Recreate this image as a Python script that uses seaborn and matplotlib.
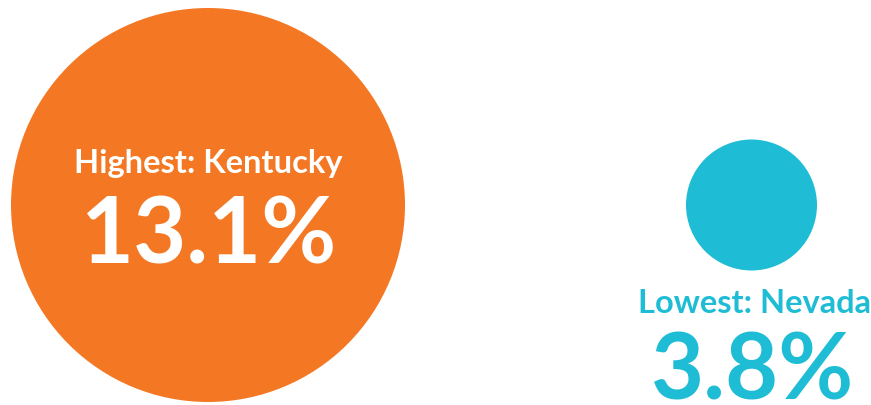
import matplotlib
matplotlib.use("Agg")
import matplotlib.pyplot as plt
import seaborn as sns
import pandas as pd

# ── Data ──────────────────────────────────────────────────────────────────────
states = ["Kentucky", "Nevada"]
rates = [13.1, 3.8]
ranks = ["Highest", "Lowest"]
colors = ["#F47824", "#1FBDD5"]

# ── Layout (pixel units, figure is 871 x 405) ─────────────────────────────────
W, H = 871, 405
x_pos = [208, 751.5]
y_pos = [205, 205]

df = pd.DataFrame({"state": states, "rate": rates, "x": x_pos, "y": y_pos})

sns.set_style("white")
plt.rcParams["font.family"] = ["Lato", "DejaVu Sans"]

fig = plt.figure(figsize=(W / 100, H / 100), dpi=100)
ax = fig.add_axes([0, 0, 1, 1])

# marker diameter in points: 394 px and 131 px at 100 dpi
s_big = (394 * 0.72) ** 2
s_small = (131 * 0.72) ** 2
sns.scatterplot(
    data=df, x="x", y="y", hue="state", palette=colors,
    size="rate", sizes=(s_small, s_big), linewidth=0,
    legend=False, ax=ax,
)

ax.set_xlim(0, W)
ax.set_ylim(H, 0)
ax.set_axis_off()

# Highest label inside the big circle
ax.text(x_pos[0], 173, f"{ranks[0]}: {states[0]}", color="white",
        fontsize=23.5, fontweight="bold", ha="center", va="baseline")
ax.text(x_pos[0], 263, f"{rates[0]}%", color="white",
        fontsize=66, fontweight="bold", ha="center", va="baseline")

# Lowest label below the small circle
ax.text(754, 313, f"{ranks[1]}: {states[1]}", color=colors[1],
        fontsize=23.5, fontweight="bold", ha="center", va="baseline")
ax.text(753, 400, f"{rates[1]}%", color=colors[1],
        fontsize=66, fontweight="bold", ha="center", va="baseline")

fig.savefig("out.png", dpi=100, facecolor="white")
